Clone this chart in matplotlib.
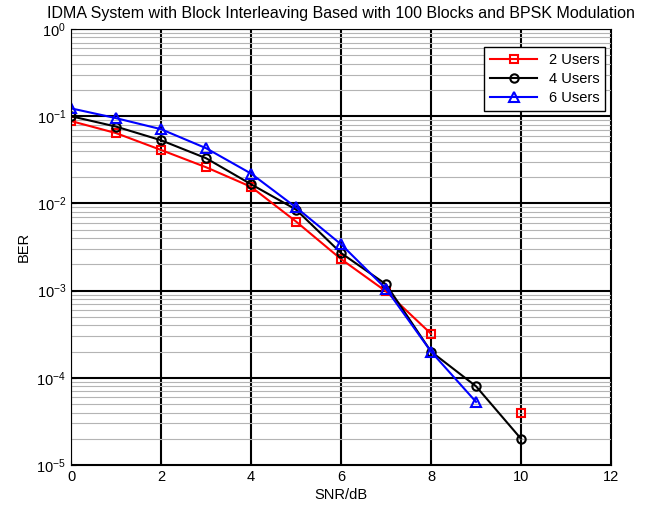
import matplotlib

matplotlib.use("Agg")
import matplotlib.pyplot as plt
import numpy as np
from matplotlib.ticker import LogLocator, NullFormatter

plt.rcParams["font.family"] = ["Liberation Sans", "DejaVu Sans"]
plt.rcParams["axes.unicode_minus"] = False

snr = [0, 1, 2, 3, 4, 5, 6, 7, 8, 9, 10]
ber_2 = [0.088, 0.064, 0.041, 0.026, 0.0155, 0.0062, 0.0023, 0.00098, 0.00032, np.nan, 4.0e-5]
ber_4 = [0.100, 0.076, 0.053, 0.033, 0.0166, 0.0085, 0.0027, 0.00118, 0.00020, 8.0e-5, 2.0e-5]
ber_6 = [0.123, 0.095, 0.071, 0.043, 0.022, 0.0090, 0.0034, 0.00105, 0.00020, 5.3e-5, np.nan]

fig = plt.figure(figsize=(6.48, 5.07), dpi=100)
ax = fig.add_axes([0.1096, 0.0828, 0.8333, 0.86])

ax.semilogy(snr, ber_2, "-s", color="red", lw=1.5, ms=6, mfc="none", mew=1.5, label="2 Users")
ax.semilogy(snr, ber_4, "-o", color="black", lw=1.5, ms=6, mfc="none", mew=1.5, label="4 Users")
ax.semilogy(snr, ber_6, "-^", color="blue", lw=1.5, ms=7, mfc="none", mew=1.5, label="6 Users")

ax.set_xlim(0, 12)
ax.set_ylim(1e-5, 1)
ax.set_xticks(range(0, 13, 2))
ax.yaxis.set_major_locator(LogLocator(base=10, numticks=10))
ax.yaxis.set_minor_locator(LogLocator(base=10, subs=np.arange(2, 10), numticks=20))
ax.yaxis.set_minor_formatter(NullFormatter())

ax.grid(True, which="major", color="black", lw=1.5)
ax.grid(True, which="minor", axis="y", color="#b4b4b4", lw=0.8)
ax.set_axisbelow(True)
ax.tick_params(which="both", direction="in", labelsize=10.5)
ax.tick_params(which="minor", length=0)

ax.set_xlabel("SNR/dB", fontsize=10.5, labelpad=3)
ax.set_ylabel("BER", fontsize=10.5)
ax.set_title("IDMA System with Block Interleaving Based with 100 Blocks and BPSK Modulation",
             fontsize=11.5, pad=8)

leg = ax.legend(loc="upper right", bbox_to_anchor=(0.989, 0.959), borderaxespad=0,
                fontsize=10.5, fancybox=False, framealpha=1, edgecolor="black",
                handlelength=3.2, labelspacing=0.35)
leg.get_frame().set_linewidth(1.0)

fig.savefig("out.png", dpi=100)
